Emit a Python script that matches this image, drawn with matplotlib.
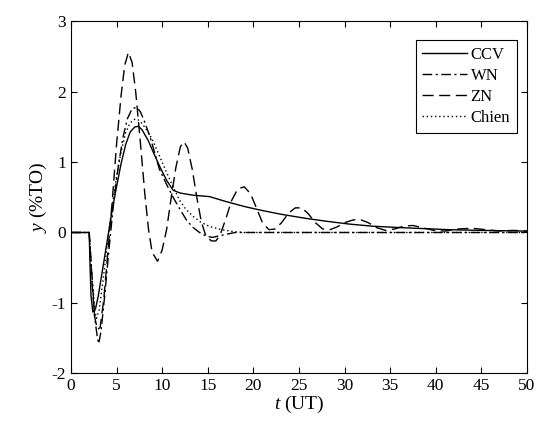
import numpy as np
import matplotlib.pyplot as plt

plt.rcParams['font.family'] = 'Liberation Serif'
plt.rcParams['mathtext.fontset'] = 'custom'
plt.rcParams['mathtext.it'] = 'Liberation Serif:italic'
plt.rcParams['mathtext.rm'] = 'Liberation Serif'
plt.rcParams['axes.unicode_minus'] = False

# Respuestas
t_ccv = [0, 2, 2.1, 2.2, 2.4, 2.7, 3.0, 3.5, 4.0, 4.5, 5.0, 5.5, 6.0, 6.5, 7.0,
         7.4, 7.8, 8.5, 9.0, 9.8, 10.5, 11.2, 12.0, 13.4, 15.2, 17.0, 19.0,
         20.7, 23, 25.8, 28, 30.5, 33, 36, 41.4, 45, 50]
y_ccv = [0, 0, -0.5, -0.9, -1.13, -1.08, -0.9, -0.5, -0.1, 0.3, 0.65, 0.98,
         1.25, 1.43, 1.50, 1.51, 1.46, 1.30, 1.15, 0.92, 0.74, 0.60, 0.56, 0.53,
         0.51, 0.44, 0.37, 0.32, 0.26, 0.20, 0.16, 0.12, 0.09, 0.07, 0.04, 0.03,
         0.02]

t_wn = [0, 2, 2.3, 2.6, 2.9, 3.05, 3.3, 3.7, 4.2, 4.7, 5.2, 5.7, 6.2, 6.7, 7.2,
        7.6, 8.0, 8.7, 9.7, 10.5, 11.2, 12.0, 12.7, 13.4, 14.1, 14.8, 15.5,
        16.5, 18, 22, 50]
y_wn = [0, 0, -0.6, -1.2, -1.5, -1.58, -1.4, -0.9, -0.2, 0.45, 0.95, 1.35,
        1.62, 1.76, 1.78, 1.72, 1.6, 1.35, 0.9, 0.68, 0.5, 0.32, 0.17, 0.07,
        0.0, -0.05, -0.07, -0.04, 0.0, 0.0, 0.0]

t_zn = [0, 2, 2.3, 2.6, 2.9, 3.2, 3.6, 4.0, 4.5, 5.0, 5.5, 5.9, 6.3, 6.7, 7.1,
        7.6, 8.1, 8.5, 8.9, 9.5, 10.0, 10.5, 11.0, 11.5, 12.0, 12.4, 12.8, 13.3,
        13.8, 14.3, 14.8, 15.4, 15.9, 16.4, 17.0, 17.6, 18.3, 19.0, 19.7, 20.4,
        21.0, 21.7, 22.4, 23.1, 23.9, 24.6, 25.3, 26.0, 26.8, 27.6, 28.4, 29.2,
        30.0, 31.0, 31.8, 32.6, 33.5, 34.5, 35.5, 36.5, 37.5, 38.5, 39.8, 41,
        42.5, 44, 45.5, 47, 48.5, 50]
y_zn = [0, 0, -0.7, -1.2, -1.38, -1.35, -0.95, -0.35, 0.4, 1.25, 1.95, 2.38,
        2.56, 2.42, 2.0, 1.3, 0.55, 0.05, -0.28, -0.41, -0.25, 0.05, 0.5, 0.92,
        1.22, 1.29, 1.2, 0.9, 0.5, 0.15, -0.05, -0.12, -0.12, -0.02, 0.2, 0.45,
        0.62, 0.65, 0.55, 0.33, 0.14, 0.04, 0.05, 0.14, 0.28, 0.35, 0.35, 0.27,
        0.14, 0.05, 0.04, 0.08, 0.14, 0.18, 0.18, 0.14, 0.07, 0.03, 0.05, 0.09,
        0.1, 0.07, 0.03, 0.02, 0.05, 0.06, 0.04, 0.02, 0.03, 0.02]

t_chien = [0, 2, 2.3, 2.6, 2.8, 3.1, 3.5, 4.0, 4.5, 5.0, 5.5, 6.0, 6.5, 7.0,
           7.3, 7.8, 8.5, 9.0, 9.8, 10.5, 11.2, 11.9, 12.6, 13.4, 14.2, 15.2,
           16.5, 18, 19, 50]
y_chien = [0, 0, -0.6, -1.1, -1.22, -1.1, -0.7, -0.15, 0.35, 0.8, 1.15, 1.42,
           1.56, 1.61, 1.61, 1.55, 1.42, 1.30, 1.06, 0.85, 0.65, 0.46, 0.33,
           0.23, 0.15, 0.085, 0.04, 0.01, 0.0, 0.0]

fig = plt.figure(figsize=(5.5, 4.38), dpi=100)
ax = fig.add_axes([0.129, 0.148, 0.829, 0.803])

ax.plot(t_ccv, y_ccv, color='k', lw=1.0, linestyle='-', label='CCV')
ax.plot(t_wn, y_wn, color='k', lw=1.0, linestyle=(0, (7, 2.5, 1.5, 2.5)), label='WN')
ax.plot(t_zn, y_zn, color='k', lw=1.0, linestyle=(0, (8, 4)), label='ZN')
ax.plot(t_chien, y_chien, color='k', lw=1.0, linestyle=(0, (1, 2)), label='Chien')

ax.set_xlim(0, 50)
ax.set_ylim(-2, 3)
ax.set_xticks(np.arange(0, 51, 5))
ax.set_yticks(np.arange(-2, 4, 1))
ax.tick_params(direction='in', top=True, right=True, labelsize=12.5, length=4)
for s in ax.spines.values():
    s.set_linewidth(0.8)

ax.set_xlabel(r'$t$ (UT)', fontsize=14, labelpad=0)
ax.set_ylabel(r'$y$ (%TO)', fontsize=14, labelpad=2)

leg = ax.legend(loc='upper right', bbox_to_anchor=(0.978, 0.946), borderaxespad=0,
                fontsize=12, fancybox=False, edgecolor='k', framealpha=1,
                handlelength=2.7, handletextpad=0.2, labelspacing=0.3,
                borderpad=0.4)
leg.get_frame().set_linewidth(0.8)

plt.savefig('out.png', dpi=100)
